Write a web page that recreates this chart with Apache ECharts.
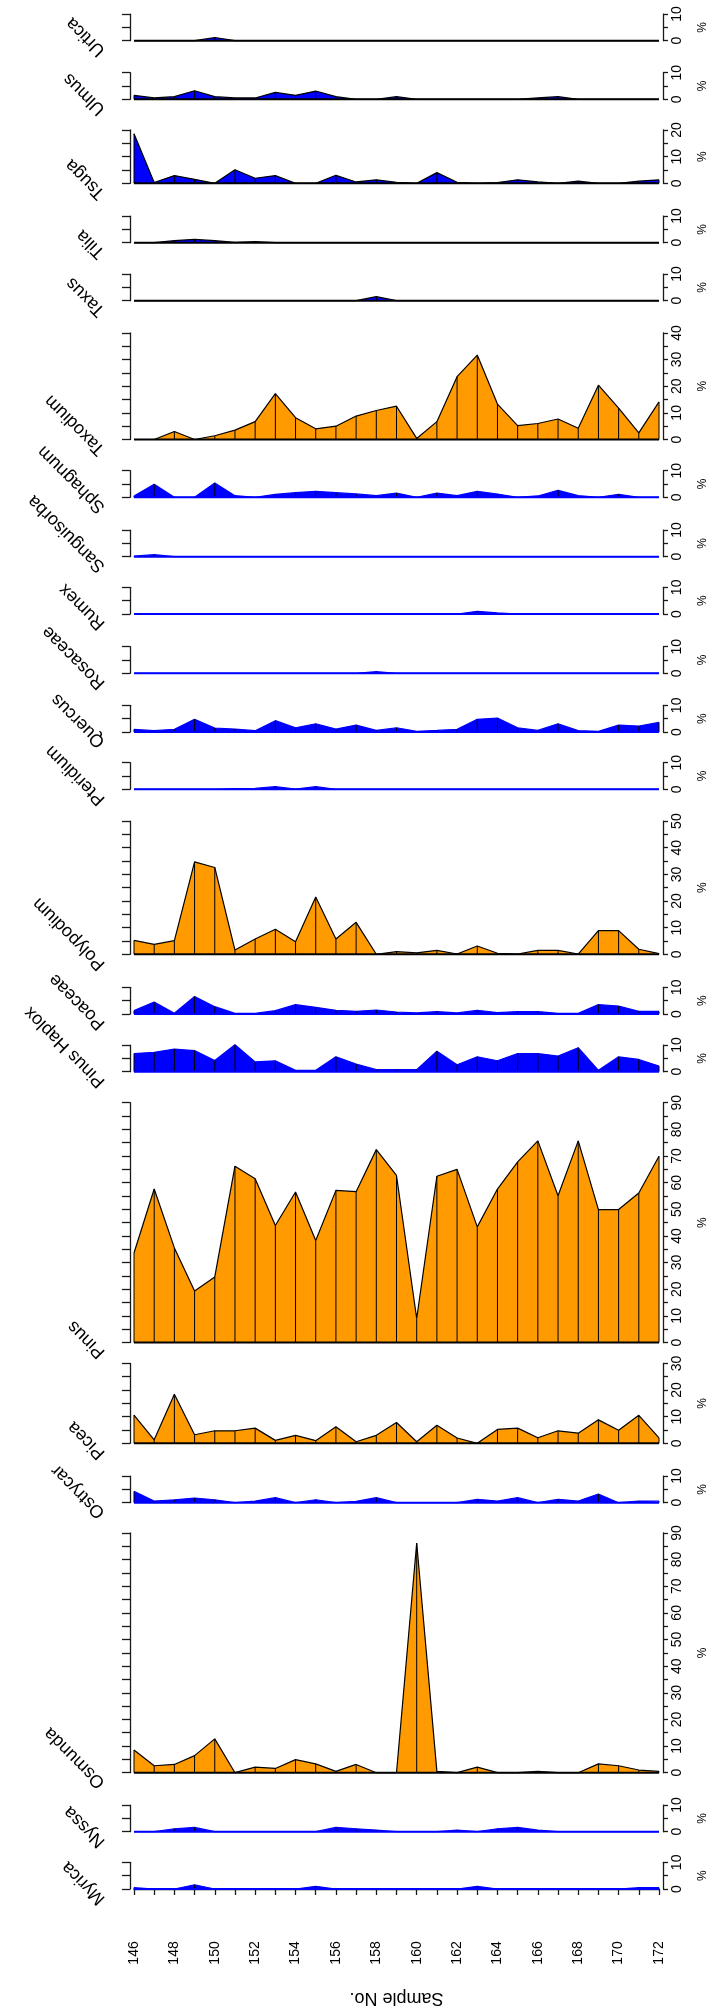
<!DOCTYPE html>
<html>
<head>
<meta charset="utf-8">
<script src="https://cdn.jsdelivr.net/npm/echarts@6/dist/echarts.min.js"></script>
<style>
  html, body { margin: 0; padding: 0; background: #ffffff; }
  #chart { width: 717px; height: 2009px; }
</style>
</head>
<body>
<div id="chart"></div>
<script>
// ---- Data: pollen percentages per sample ----
const samples = [146,147,148,149,150,151,152,153,154,155,156,157,158,159,160,161,162,163,164,165,166,167,168,169,170,171,172];
const sampleTickLabels = [146,148,150,152,154,156,158,160,162,164,166,168,170,172];

const taxa = ['Urtica','Ulmus','Tsuga','Tilia','Taxus','Taxodium','Sphagnum','Sanguisorba','Rumex','Rosaceae','Quercus','Pteridium','Polypodium','Poaceae','Pinus Haplox','Pinus','Picea','Ostrycar','Osmunda','Nyssa','Myrica'];

const urtica      = [0,0,0,0,1.2,0,0,0,0,0,0,0,0,0,0,0,0,0,0,0,0,0,0,0,0,0,0];
const ulmus       = [1.5,0.5,1.0,3.2,1.0,0.5,0.5,2.6,1.5,3.1,1.0,0,0,1.0,0,0,0,0,0,0,0.5,1.0,0,0,0,0,0];
const tsuga       = [18.6,0.3,2.9,1.5,0,5.1,1.9,2.9,0,0,3.0,0.5,1.3,0.4,0,4.0,0.4,0,0.3,1.3,0.5,0,0.8,0,0,0.8,1.3];
const tilia       = [0,0,0.75,1.25,0.75,0.1,0.4,0,0,0,0,0,0,0,0,0,0,0,0,0,0,0,0,0,0,0,0];
const taxus       = [0,0,0,0,0,0,0,0,0,0,0,0,1.5,0,0,0,0,0,0,0,0,0,0,0,0,0,0];
const taxodium    = [0,0,3.0,0,1.4,3.5,6.7,17.2,8.2,4.0,5.0,8.8,10.9,12.5,0.4,6.7,23.6,31.7,13.3,5.2,6.0,7.7,4.2,20.4,11.8,2.5,14.1];
const sphagnum    = [0.5,4.9,0,0,5.4,0.6,0,1.1,1.75,2.25,1.75,1.25,0.6,1.6,0,1.6,0.6,2.25,1.25,0,0.5,2.6,0.6,0,1.1,0,0];
const sanguisorba = [0.2,0.75,0,0,0,0,0,0,0,0,0,0,0,0,0,0,0,0,0,0,0,0,0,0,0,0,0];
const rumex       = [0,0,0,0,0,0,0,0,0,0,0,0,0,0,0,0,0,1.0,0.4,0,0,0,0,0,0,0,0];
const rosaceae    = [0,0,0,0,0,0,0,0,0,0,0,0,0.6,0,0,0,0,0,0,0,0,0,0,0,0,0,0];
const quercus     = [1.0,0.5,1.0,4.75,1.5,1.1,0.5,4.25,1.6,3.1,1.1,2.6,0.6,1.6,0.25,0.6,1.0,4.75,5.25,1.6,0.6,3.1,0.5,0.25,2.6,2.25,3.6];
const pteridium   = [0,0,0,0,0,0.25,0.4,1.0,0.1,1.0,0,0,0,0,0,0,0,0,0,0,0,0,0,0,0,0,0];
const polypodium  = [5.25,3.75,5.1,34.7,32.6,1.6,5.75,9.4,4.75,21.5,5.75,12.0,0,1.0,0.5,1.5,0.1,3.1,0.4,0.1,1.5,1.5,0.1,8.9,8.9,1.9,0.25];
const poaceae     = [1.25,4.5,0.25,6.6,2.75,0.25,0.25,1.25,3.5,2.5,1.4,1.0,1.5,0.75,0.4,0.9,0.4,1.4,0.5,0.9,0.9,0.25,0.25,3.5,3.0,1.0,1.0];
const pinusHaplox = [6.8,7.3,8.5,7.9,4.2,10.1,3.7,4.1,0.5,0.5,5.6,2.9,0.75,0.75,0.75,7.7,2.6,5.6,4.1,6.8,6.8,5.9,9.0,0.5,5.6,4.6,2.1];
const pinus       = [33.6,57.6,35.5,19.3,24.6,66.2,61.5,43.9,56.5,38.3,57.1,56.6,72.4,62.7,9.0,62.4,65.0,43.4,57.6,67.8,75.7,55.1,75.7,49.9,49.9,56.1,69.9];
const picea       = [10.6,1.3,18.4,3.2,4.7,4.7,5.7,1.1,3.0,1.0,6.2,0.6,3.0,7.8,0.6,6.8,2.0,0,5.2,5.7,2.1,4.7,3.8,8.8,4.9,10.5,2.0];
const ostrycar    = [4.25,0.6,1.1,1.75,1.1,0,0.6,1.9,0,1.1,0,0.5,1.9,0,0,0,0,1.25,0.6,1.9,0,1.25,0.6,3.25,0,0.6,0.6];
const osmunda     = [8.5,2.6,3.1,6.4,12.7,0,2.1,1.6,4.9,3.3,0.5,3.1,0,0,86.2,0.5,0,2.1,0,0,0.5,0,0,3.3,2.6,1.0,0.5];
const nyssa       = [0,0,1.1,1.6,0,0,0,0,0,0,1.6,1.1,0.6,0,0,0,0.6,0,1.1,1.6,0.6,0,0,0,0,0,0];
const myrica      = [0.5,0,0,1.6,0,0,0,0,0,1.0,0,0,0,0,0,0,0,1.0,0,0,0,0,0,0,0,0.5,0.5];

const taxonValues = [urtica, ulmus, tsuga, tilia, taxus, taxodium, sphagnum, sanguisorba, rumex, rosaceae, quercus, pteridium, polypodium, poaceae, pinusHaplox, pinus, picea, ostrycar, osmunda, nyssa, myrica];

// Upper limit of each percentage scale
const axisMax = [10,10,20,10,10,40,10,10,10,10,10,10,50,10,10,90,30,10,90,10,10];

// ---- Styling and layout ----
const ORANGE = '#FF9A00';
const BLUE = '#0000FF';
const INK = '#1a1a1a';
const FONT = '"Liberation Sans", Arial, Helvetica, sans-serif';
const fills = ['B','B','B','B','B','O','B','B','B','B','B','B','O','B','B','O','O','B','O','B','B'];
const blackEdge = [true,true,true,true,true,true,false,false,false,false,false,false,true,false,false,true,true,false,true,false,false];

const PLOT_LEFT = 134;
const PLOT_RIGHT = 665.5;
const PX_PER_PCT = 2.664;
// zero line (pixel row) of each strip, top to bottom
const panelZero = [40.7, 99.3, 183.3, 242.7, 300.7, 439.5, 497.3, 556.7, 614, 673.3, 732, 789.3, 954.3, 1014, 1071.7, 1342.5, 1443.3, 1502.7, 1772.7, 1831.7, 1889];
const SAMPLE_AXIS_Y = 1927.3;

const grids = [], xAxes = [], yAxes = [], series = [], graphics = [];
const last = taxa.length - 1;

taxa.forEach((name, i) => {
  const h = axisMax[i] * PX_PER_PCT;
  const fill = fills[i] === 'O' ? ORANGE : BLUE;
  const edge = blackEdge[i] ? '#000000' : BLUE;
  const pairs = samples.map((s, k) => [s, taxonValues[i][k]]);

  grids.push({ left: PLOT_LEFT, width: PLOT_RIGHT - PLOT_LEFT, top: panelZero[i] - h, height: h });

  const isBottom = i === last;
  xAxes.push({
    gridIndex: i, type: 'value', min: samples[0], max: samples[samples.length - 1], interval: 1,
    show: isBottom, position: 'bottom', offset: isBottom ? SAMPLE_AXIS_Y - panelZero[i] : 0,
    axisLine: { show: true, lineStyle: { color: INK, width: 1.3 } },
    axisTick: { show: true, length: 6, inside: false, lineStyle: { color: INK, width: 1.3 } },
    axisLabel: {
      show: true, rotate: 90, margin: 14, fontSize: 14, color: '#000', fontFamily: FONT,
      formatter: v => sampleTickLabels.indexOf(v) >= 0 ? String(v) : ''
    },
    splitLine: { show: false },
    name: isBottom ? 'Sample No.' : '', nameLocation: 'middle', nameGap: 62, nameRotate: 180,
    nameTextStyle: { fontSize: 18, color: '#000', fontFamily: FONT }
  });

  // left scale: ticks only
  yAxes.push({
    gridIndex: i, type: 'value', min: 0, max: axisMax[i], interval: 5, position: 'left', offset: 4,
    axisLine: { show: true, lineStyle: { color: INK, width: 1.3 } },
    axisTick: { show: true, length: 8, lineStyle: { color: INK, width: 1.3 } },
    axisLabel: { show: false }, splitLine: { show: false }
  });
  // right scale: ticks, labels and unit
  yAxes.push({
    gridIndex: i, type: 'value', min: 0, max: axisMax[i], interval: 5, position: 'right', offset: 4,
    axisLine: { show: true, lineStyle: { color: INK, width: 1.3 } },
    axisTick: { show: true, length: 5, lineStyle: { color: INK, width: 1.3 } },
    axisLabel: {
      show: true, rotate: 90, margin: 7, fontSize: 14, color: '#000', fontFamily: FONT,
      formatter: v => (v % 10 === 0 ? String(v) : '')
    },
    splitLine: { show: false },
    name: '%', nameLocation: 'middle', nameGap: 34, nameRotate: 90,
    nameTextStyle: { fontSize: 12, color: '#000', fontFamily: FONT }
  });

  const yi = 2 * i;
  // filled curve
  series.push({
    type: 'line', xAxisIndex: i, yAxisIndex: yi, data: pairs, symbol: 'none', clip: false,
    silent: true, animation: false,
    lineStyle: { color: edge, width: 1.2 }, areaStyle: { color: fill, opacity: 1 }, z: 2
  });
  // sample bars
  series.push({
    type: 'custom', xAxisIndex: i, yAxisIndex: yi, data: pairs, silent: true, animation: false, z: 3,
    renderItem: (params, api) => {
      const top = api.coord([api.value(0), api.value(1)]);
      const bot = api.coord([api.value(0), 0]);
      return { type: 'line', shape: { x1: bot[0], y1: bot[1], x2: top[0], y2: top[1] },
               style: { stroke: '#000', lineWidth: 1 } };
    }
  });
  // zero line
  series.push({
    type: 'line', xAxisIndex: i, yAxisIndex: yi, data: [[samples[0], 0], [samples[samples.length - 1], 0]],
    symbol: 'none', clip: false, silent: true, animation: false,
    lineStyle: { color: edge, width: 2 }, z: 4
  });

  // taxon name, written diagonally beside its strip
  graphics.push({
    type: 'text', x: 108.5, y: panelZero[i] + 6.5, rotation: 3 * Math.PI / 4, silent: true,
    style: {
      text: name, fontSize: 18, fontFamily: FONT, fill: '#000',
      textAlign: 'left', textVerticalAlign: 'bottom', align: 'left', verticalAlign: 'bottom'
    }
  });
});

const chart = echarts.init(document.getElementById('chart'), null, { renderer: 'canvas' });
chart.setOption({
  animation: false,
  backgroundColor: '#ffffff',
  grid: grids,
  xAxis: xAxes,
  yAxis: yAxes,
  series: series,
  graphic: graphics
});
</script>
</body>
</html>
